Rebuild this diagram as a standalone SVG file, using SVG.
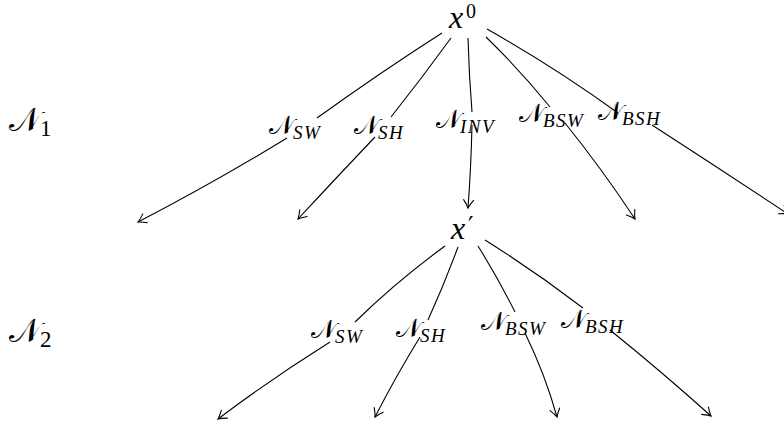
<svg xmlns="http://www.w3.org/2000/svg" width="784" height="423" viewBox="0 0 784 423">
<style>
.e{fill:none;stroke:#000;stroke-width:1.1}
.a{marker-end:url(#arr)}
.n{font-family:"Liberation Serif","DejaVu Serif","DejaVu Sans",serif;font-size:26px;fill:#000}
.s{font-family:"Liberation Serif",serif;font-style:italic;font-size:19px;letter-spacing:1.5px}
.L{font-family:"Liberation Serif","DejaVu Serif","DejaVu Sans",serif;font-size:33px;fill:#000}
.ls{font-family:"Liberation Serif",serif;font-size:23px}
.x{font-family:"Liberation Serif",serif;font-style:italic;font-size:32px;fill:#000}
.sup{font-family:"Liberation Serif",serif;font-style:normal;font-size:20px}
.pr{font-family:"DejaVu Serif",serif;font-style:normal;font-size:24px}
</style>
<defs>
<marker id="arr" markerUnits="userSpaceOnUse" markerWidth="14" markerHeight="14" refX="0" refY="0" viewBox="-10 -7 12 14" orient="auto" overflow="visible">
<path d="M-8,-5 Q-3,-1.2 0,0 Q-3,1.2 -8,5" fill="none" stroke="#000" stroke-width="1.1" stroke-linecap="round"/>
</marker>
</defs>
<rect width="784" height="423" fill="#fff"/>
<g id="connectors">
<path class="e" d="M442,33 Q381,72 317,118"/>
<path class="e a" d="M287,138 Q215,182 138,222"/>
<path class="e" d="M451,38 Q422,78 391,117"/>
<path class="e a" d="M375,137 Q338,176 298,219"/>
<path class="e" d="M468,38 Q469,75 472,112"/>
<path class="e a" d="M472,125 Q471,168 468,208"/>
<path class="e" d="M486,37 Q520,70 550,107"/>
<path class="e a" d="M565,123 Q602,169 635,219"/>
<path class="e" d="M487,29 Q556,68 618,113"/>
<path class="e a" d="M652,125 Q720,169 788,214"/>
<path class="e" d="M445,246 Q397,281 355,322"/>
<path class="e a" d="M330,342 Q271,379 218,419"/>
<path class="e" d="M458,247 Q444,285 428,320"/>
<path class="e a" d="M420,337 Q396,376 375,417"/>
<path class="e" d="M478,246 Q498,278 515,312"/>
<path class="e a" d="M525,333 Q545,374 557,417"/>
<path class="e" d="M485,240 Q536,272 583,308"/>
<path class="e a" d="M610,330 Q662,372 711,416"/>
</g>
<g id="label-N1"><text class="L" x="9" y="131">𝒩<tspan class="ls" x="40" y="136">1</tspan></text></g>
<g id="label-N2"><text class="L" x="9" y="342">𝒩<tspan class="ls" x="40" y="347">2</tspan></text></g>
<g id="node-x0"><text class="x" x="449" y="28">x<tspan class="sup" x="466" y="18">0</tspan></text></g>
<g id="node-xprime"><text class="x" x="451" y="239">x<tspan class="pr" x="468" y="234">′</tspan></text></g>
<g id="l1-sw"><text class="n" x="269" y="134">𝒩<tspan class="s" x="293" y="139">SW</tspan></text></g>
<g id="l1-sh"><text class="n" x="354" y="134">𝒩<tspan class="s" x="378" y="139">SH</tspan></text></g>
<g id="l1-inv"><text class="n" x="436" y="128">𝒩<tspan class="s" x="460" y="133">INV</tspan></text></g>
<g id="l1-bsw"><text class="n" x="519" y="122">𝒩<tspan class="s" x="543" y="127">BSW</tspan></text></g>
<g id="l1-bsh"><text class="n" x="598" y="120">𝒩<tspan class="s" x="622" y="125">BSH</tspan></text></g>
<g id="l2-sw"><text class="n" x="311" y="338">𝒩<tspan class="s" x="335" y="343">SW</tspan></text></g>
<g id="l2-sh"><text class="n" x="396" y="337">𝒩<tspan class="s" x="420" y="342">SH</tspan></text></g>
<g id="l2-bsw"><text class="n" x="481" y="330">𝒩<tspan class="s" x="505" y="335">BSW</tspan></text></g>
<g id="l2-bsh"><text class="n" x="561" y="328">𝒩<tspan class="s" x="585" y="333">BSH</tspan></text></g>
</svg>
